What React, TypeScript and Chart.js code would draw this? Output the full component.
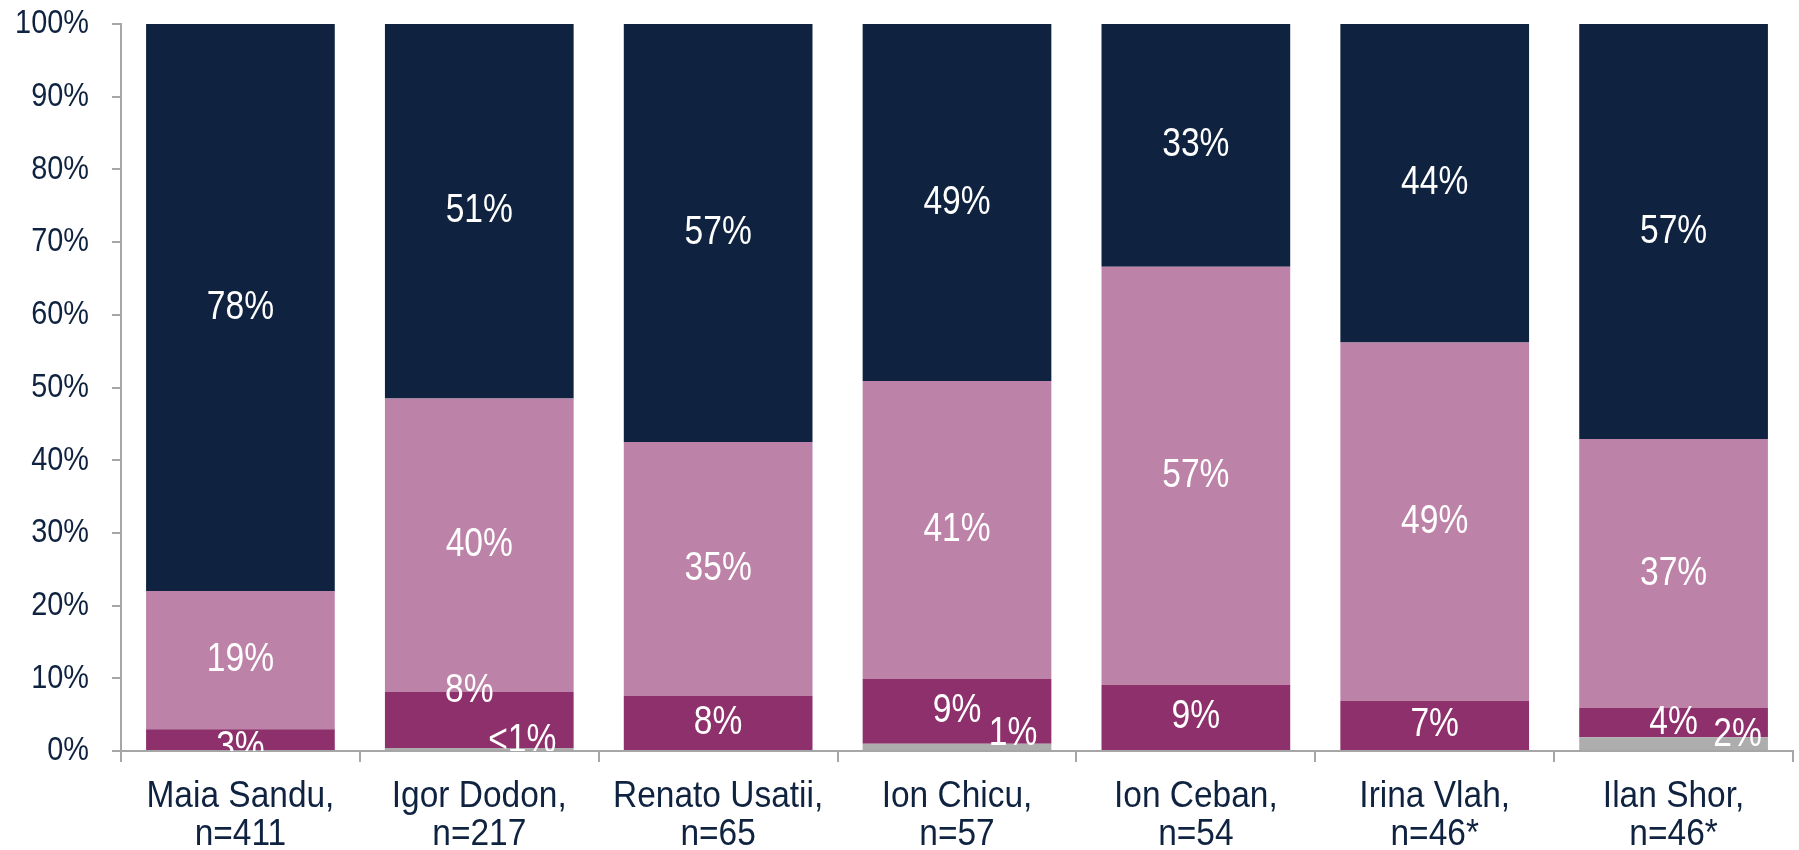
import React, { useEffect, useRef } from "react";
import { Chart, registerables } from "chart.js";

Chart.register(...registerables);

const categories: string[][] = [
  ["Maia Sandu,", "n=411"],
  ["Igor Dodon,", "n=217"],
  ["Renato Usatii,", "n=65"],
  ["Ion Chicu,", "n=57"],
  ["Ion Ceban,", "n=54"],
  ["Irina Vlah,", "n=46*"],
  ["Ilan Shor,", "n=46*"],
];

const grayValues = [0, 0.4, 0, 1.0, 0, 0, 1.9];
const magentaValues = [3.0, 7.7, 7.6, 8.9, 9.1, 6.9, 4.0];
const mauveValues = [19.0, 40.4, 34.9, 41.0, 57.5, 49.3, 37.0];
const navyValues = [78.0, 51.5, 57.5, 49.1, 33.4, 43.8, 57.1];

const grayLabels = ["", "<1%", "", "1%", "", "", "2%"];
const magentaLabels = ["3%", "8%", "8%", "9%", "9%", "7%", "4%"];
const mauveLabels = ["19%", "40%", "35%", "41%", "57%", "49%", "37%"];
const navyLabels = ["78%", "51%", "57%", "49%", "33%", "44%", "57%"];

const yTicks = [0, 10, 20, 30, 40, 50, 60, 70, 80, 90, 100];

// label nudges (px) relative to segment centre
const labelNudges: Record<number, Record<number, [number, number]>> = {
  0: { 1: [43, -8], 3: [56, -13], 6: [64, -9] },
  1: { 0: [0, 8], 1: [-10, -29] },
};

const NAVY = "#0F2340";
const FONT = "'Liberation Sans', Arial, sans-serif";
const AXIS_GREY = "#A6A6A6";
const CLEAR = "rgba(0,0,0,0)";

function drawScaled(ctx: any, text: string, x: number, y: number, sx: number, align: string) {
  ctx.save();
  ctx.translate(x, y);
  ctx.scale(sx, 1);
  ctx.textAlign = align;
  ctx.fillText(text, 0, 0);
  ctx.restore();
}

const textPlugin = {
  id: "texts",
  afterDraw(chart: any) {
    const { ctx, chartArea, scales } = chart;
    const labelSets = [grayLabels, magentaLabels, mauveLabels, navyLabels];
    // bar labels (clipped to plot area)
    ctx.save();
    ctx.beginPath();
    ctx.rect(chartArea.left, chartArea.top, chartArea.right - chartArea.left, chartArea.bottom - chartArea.top);
    ctx.clip();
    ctx.fillStyle = "#FFFFFF";
    ctx.font = `40px ${FONT}`;
    ctx.textBaseline = "middle";
    chart.data.datasets.forEach((_ds: any, di: number) => {
      const meta = chart.getDatasetMeta(di);
      meta.data.forEach((el: any, i: number) => {
        const text = labelSets[di][i];
        if (!text) return;
        const nudge = (labelNudges[di] && labelNudges[di][i]) || [0, 0];
        const cy = (el.y + el.base) / 2;
        drawScaled(ctx, text, el.x + nudge[0], cy + nudge[1], 0.84, "center");
      });
    });
    ctx.restore();

    // y tick labels
    ctx.save();
    ctx.fillStyle = NAVY;
    ctx.font = `34px ${FONT}`;
    ctx.textBaseline = "middle";
    yTicks.forEach((v) => {
      const y = scales.y.getPixelForValue(v);
      drawScaled(ctx, `${v}%`, chartArea.left - 32, y, 0.85, "right");
    });
    // x category labels
    ctx.font = `36px ${FONT}`;
    ctx.textBaseline = "alphabetic";
    categories.forEach((lines, i) => {
      const x = scales.x.getPixelForValue(i);
      lines.forEach((line, li) => {
        drawScaled(ctx, line, x, chartArea.bottom + 56 + li * 38, 0.93, "center");
      });
    });
    ctx.restore();
  },
};

export default function App() {
  const ref = useRef<HTMLCanvasElement>(null);
  useEffect(() => {
    if (!ref.current) return;
    const chart = new Chart(ref.current, {
      type: "bar",
      data: {
        labels: categories,
        datasets: [
          { label: "gray", data: grayValues, backgroundColor: "#ADADAD" },
          { label: "magenta", data: magentaValues, backgroundColor: "#8E306C" },
          { label: "mauve", data: mauveValues, backgroundColor: "#BC82A8" },
          { label: "navy", data: navyValues, backgroundColor: NAVY },
        ].map((d) => ({
          ...d,
          categoryPercentage: 1,
          barPercentage: 0.79,
          borderWidth: 0,
        })),
      },
      options: {
        animation: false,
        responsive: false,
        maintainAspectRatio: false,
        layout: { padding: { top: 24, right: 6, bottom: 0, left: 0 } },
        plugins: {
          legend: { display: false },
          tooltip: { enabled: false },
        },
        scales: {
          x: {
            stacked: true,
            offset: true,
            grid: {
              offset: true,
              drawOnChartArea: false,
              drawTicks: true,
              tickLength: 11,
              color: AXIS_GREY,
              lineWidth: 2,
            },
            border: { display: true, color: AXIS_GREY, width: 2 },
            ticks: {
              color: CLEAR,
              font: { family: FONT, size: 8 },
              padding: 4,
              maxRotation: 0,
              autoSkip: false,
            },
            afterFit(scale: any) {
              scale.height = 99;
            },
          },
          y: {
            stacked: true,
            min: 0,
            max: 100,
            afterBuildTicks(scale: any) {
              scale.ticks = yTicks.map((v) => ({ value: v }));
            },
            grid: {
              drawOnChartArea: false,
              drawTicks: true,
              tickLength: 9,
              color: AXIS_GREY,
              lineWidth: 2,
            },
            border: { display: true, color: AXIS_GREY, width: 2 },
            ticks: {
              color: CLEAR,
              font: { family: FONT, size: 8 },
              padding: 4,
              callback: (v: any) => `${v}%`,
            },
            afterFit(scale: any) {
              scale.width = 121;
            },
          },
        },
      },
      plugins: [textPlugin],
    });
    return () => chart.destroy();
  }, []);
  return (
    <div style={{ position: "fixed", left: 0, top: 0, width: 1799, height: 850, background: "#fff" }}>
      <canvas ref={ref} width={1799} height={850} />
    </div>
  );
}
